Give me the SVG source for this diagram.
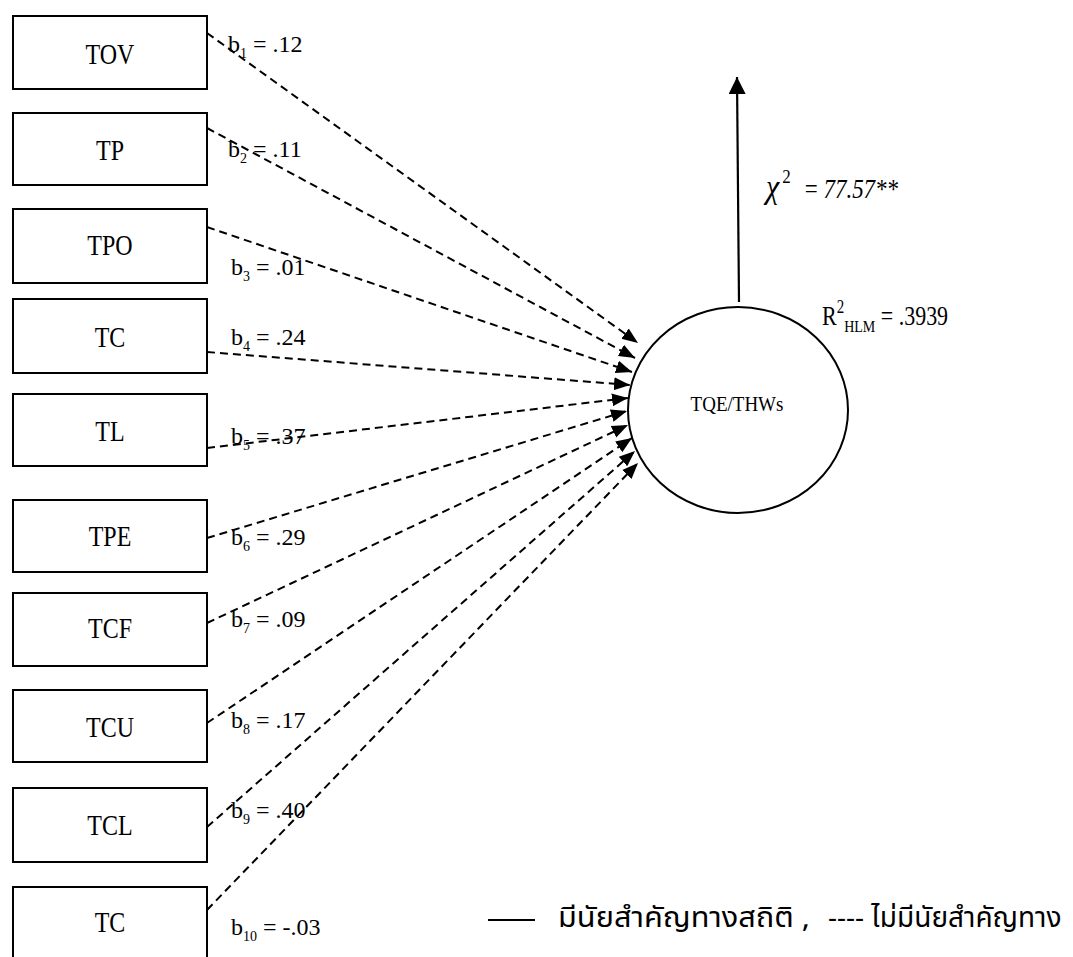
<svg xmlns="http://www.w3.org/2000/svg" width="1073" height="957" viewBox="0 0 1073 957">
  <style>
    .box { fill: #fff; stroke: #000; stroke-width: 2; }
    .lbl { font-family: "Liberation Serif", "Times New Roman", serif; font-size: 24px; fill: #000; text-anchor: middle; }
    .coef { font-family: "Liberation Serif", "Times New Roman", serif; font-size: 24px; fill: #000; }
    .sub { font-size: 14px; }
    .path { fill: none; stroke: #000; stroke-width: 2; stroke-dasharray: 8 5; }
    .solid { fill: none; stroke: #000; stroke-width: 2.2; }
    .thai { font-family: "Noto Sans Thai", "Noto Sans", "DejaVu Sans", sans-serif; font-size: 28px; fill: #000; }
  </style>
  <defs>
    <marker id="head" viewBox="0 0 10 10" refX="10" refY="5" markerWidth="16" markerHeight="16" markerUnits="userSpaceOnUse" orient="auto">
      <path d="M0,1 L10,5 L0,9 Z" fill="#000"/>
    </marker>
    <marker id="headUp" viewBox="0 0 10 10" refX="10" refY="5" markerWidth="17" markerHeight="17" markerUnits="userSpaceOnUse" orient="auto">
      <path d="M0,0 L10,5 L0,10 Z" fill="#000"/>
    </marker>
  </defs>
  <rect width="1073" height="957" fill="#fff"/>

  <!-- predictor boxes -->
  <g id="n-tov"><rect class="box" x="13" y="16" width="194" height="73"/><text class="lbl" transform="translate(110,64) scale(1,1.2)">TOV</text></g>
  <g id="n-tp"><rect class="box" x="13" y="113" width="194" height="72"/><text class="lbl" transform="translate(110,160) scale(1,1.2)">TP</text></g>
  <g id="n-tpo"><rect class="box" x="13" y="209" width="194" height="74"/><text class="lbl" transform="translate(110,255) scale(1,1.2)">TPO</text></g>
  <g id="n-tc"><rect class="box" x="13" y="299" width="194" height="74"/><text class="lbl" transform="translate(110,347) scale(1,1.2)">TC</text></g>
  <g id="n-tl"><rect class="box" x="13" y="394" width="194" height="72"/><text class="lbl" transform="translate(110,441) scale(1,1.2)">TL</text></g>
  <g id="n-tpe"><rect class="box" x="13" y="500" width="194" height="72"/><text class="lbl" transform="translate(110,546) scale(1,1.2)">TPE</text></g>
  <g id="n-tcf"><rect class="box" x="13" y="593" width="194" height="73"/><text class="lbl" transform="translate(110,638) scale(1,1.2)">TCF</text></g>
  <g id="n-tcu"><rect class="box" x="13" y="690" width="194" height="72"/><text class="lbl" transform="translate(110,737) scale(1,1.2)">TCU</text></g>
  <g id="n-tcl"><rect class="box" x="13" y="788" width="194" height="74"/><text class="lbl" transform="translate(110,835) scale(1,1.2)">TCL</text></g>
  <g id="n-tc2"><rect class="box" x="13" y="887" width="194" height="90"/><text class="lbl" transform="translate(110,932) scale(1,1.2)">TC</text></g>

  <!-- outcome -->
  <g id="n-tqe">
    <ellipse cx="738" cy="410" rx="110" ry="103" fill="#fff" stroke="#000" stroke-width="2"/>
    <text class="lbl" transform="translate(737,411) scale(1,1.15)" style="font-size:19px">TQE/THWs</text>
  </g>

  <!-- connectors -->
  <g id="connectors">
    <line class="path" x1="207" y1="33" x2="638" y2="343" marker-end="url(#head)"/>
    <line class="path" x1="207" y1="128" x2="635" y2="358" marker-end="url(#head)"/>
    <line class="path" x1="207" y1="227" x2="632" y2="372" marker-end="url(#head)"/>
    <line class="path" x1="207" y1="352" x2="630" y2="385" marker-end="url(#head)"/>
    <line class="path" x1="207" y1="448" x2="628" y2="398" marker-end="url(#head)"/>
    <line class="path" x1="207" y1="538" x2="627" y2="411" marker-end="url(#head)"/>
    <line class="path" x1="207" y1="623" x2="628" y2="425" marker-end="url(#head)"/>
    <line class="path" x1="207" y1="723" x2="632" y2="438" marker-end="url(#head)"/>
    <line class="path" x1="207" y1="827" x2="635" y2="451" marker-end="url(#head)"/>
    <line class="path" x1="207" y1="910" x2="638" y2="463" marker-end="url(#head)"/>
    <line class="solid" x1="739" y1="302" x2="737" y2="77" marker-end="url(#headUp)"/>
  </g>

  <!-- path coefficients -->
  <g id="coefficients">
    <text class="coef" x="228" y="52">b<tspan class="sub" dy="6">1</tspan><tspan dy="-6"> = .12</tspan></text>
    <text class="coef" x="228" y="157">b<tspan class="sub" dy="6">2</tspan><tspan dy="-6"> = .11</tspan></text>
    <text class="coef" x="231" y="275">b<tspan class="sub" dy="6">3</tspan><tspan dy="-6"> = .01</tspan></text>
    <text class="coef" x="231" y="345">b<tspan class="sub" dy="6">4</tspan><tspan dy="-6"> = .24</tspan></text>
    <text class="coef" x="231" y="444">b<tspan class="sub" dy="6">5</tspan><tspan dy="-6"> = .37</tspan></text>
    <text class="coef" x="231" y="545">b<tspan class="sub" dy="6">6</tspan><tspan dy="-6"> = .29</tspan></text>
    <text class="coef" x="231" y="627">b<tspan class="sub" dy="6">7</tspan><tspan dy="-6"> = .09</tspan></text>
    <text class="coef" x="231" y="728">b<tspan class="sub" dy="6">8</tspan><tspan dy="-6"> = .17</tspan></text>
    <text class="coef" x="231" y="818">b<tspan class="sub" dy="6">9</tspan><tspan dy="-6"> = .40</tspan></text>
    <text class="coef" x="231" y="935">b<tspan class="sub" dy="6">10</tspan><tspan dy="-6"> = -.03</tspan></text>
  </g>

  <!-- model fit -->
  <g id="fit">
    <text class="coef" transform="translate(766,198) scale(1,1.15)" style="font-size:30px"><tspan font-style="italic">χ</tspan><tspan class="sub" style="font-size:17px" dx="3" dy="-13">2</tspan><tspan dy="13" style="font-size:23px" dx="14">= </tspan><tspan font-style="italic" style="font-size:23px">77.57**</tspan></text>
    <text class="coef" transform="translate(822,325) scale(1,1.2)" style="font-size:22px">R<tspan style="font-size:15px" dy="-10">2</tspan><tspan style="font-size:14px" dy="16">HLM</tspan><tspan dy="-6"> = .3939</tspan></text>
  </g>

  <!-- legend -->
  <g id="legend">
    <line x1="488" y1="920" x2="535" y2="920" stroke="#000" stroke-width="2"/>
    <text class="thai" x="558" y="927" textLength="252" lengthAdjust="spacingAndGlyphs">มีนัยสำคัญทางสถิติ ,</text>
    <text class="thai" x="828" y="927">---- ไม่มีนัยสำคัญทาง</text>
  </g>
</svg>
